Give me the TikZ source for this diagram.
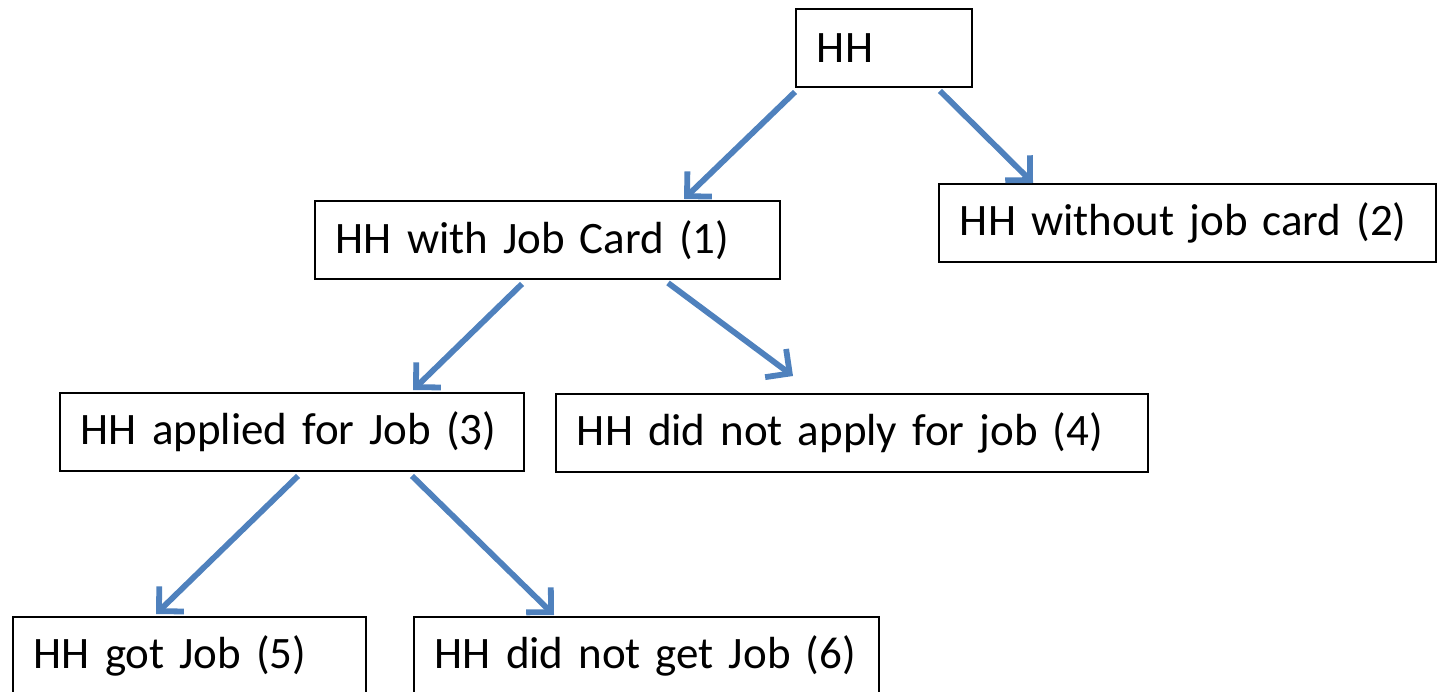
\documentclass[tikz,border=0pt]{standalone}
\usepackage{fontspec}
\setmainfont{Carlito}
\usepackage{tikz}
\usetikzlibrary{arrows.meta, positioning}
\definecolor{myblue}{RGB}{79,129,189}
\definecolor{mydark}{RGB}{0,0,0}
\tikzset{
  hhblock/.style={rectangle, draw=mydark, fill=white, anchor=north west,
    text width=#1, align=left, minimum height=1.56cm,
    inner xsep=0.42cm, inner ysep=0pt, line width=1.1pt,
    font=\fontsize{25.6}{32}\selectfont},
  arrow/.style={-{Straight Barb[length=10pt, width=20pt]}, line width=3.3pt,
    color=myblue}
}
\begin{document}
\begin{tikzpicture}

  \useasboundingbox (0,0) rectangle (28.78,-13.84);

  % ── Level 0 ───────────────────────────────────────────────────────────────
  \node[hhblock=2.68cm] (hh) at (15.9, -0.16) {HH};

  % ── Level 1 ───────────────────────────────────────────────────────────────
  \node[hhblock=8.46cm] (card)   at (6.28, -4.0)  {HH with Job Card (1)};
  \node[hhblock=9.10cm] (nocard) at (18.76, -3.66) {HH without job card (2)};

  % ── Level 2 ───────────────────────────────────────────────────────────────
  \node[hhblock=8.44cm]  (applied)    at (1.18, -7.84) {HH applied for Job (3)};
  \node[hhblock=11.0cm]  (notapplied) at (11.1, -7.86) {HH did not apply for job (4)};

  % ── Level 3 (cut by the page bottom) ──────────────────────────────────────
  \node[hhblock=6.22cm] (got)    at (0.24, -12.32) {HH got Job (5)};
  \node[hhblock=8.46cm] (notgot) at (8.26, -12.32) {HH did not get Job (6)};

  % ── Connections ───────────────────────────────────────────────────────────
  \draw[arrow] ([yshift=-0.08cm]hh.south west)
    -- ([shift={(7.4,0.02)}]card.north west);
  \draw[arrow] ([shift={(2.9,-0.06)}]hh.south west)
    -- ([shift={(1.9,0)}]nocard.north west);

  \draw[arrow] ([shift={(4.16,-0.08)}]card.south west)
    -- ([shift={(7.08,0.04)}]applied.north west);
  \draw[arrow] ([shift={(7.08,-0.06)}]card.south west)
    -- ([shift={(4.76,0.34)}]notapplied.north west);

  \draw[arrow] ([shift={(4.78,-0.08)}]applied.south west)
    -- ([shift={(2.88,0.04)}]got.north west);
  \draw[arrow] ([shift={(7.06,-0.08)}]applied.south west)
    -- ([shift={(2.82,0.02)}]notgot.north west);

\end{tikzpicture}
\end{document}
